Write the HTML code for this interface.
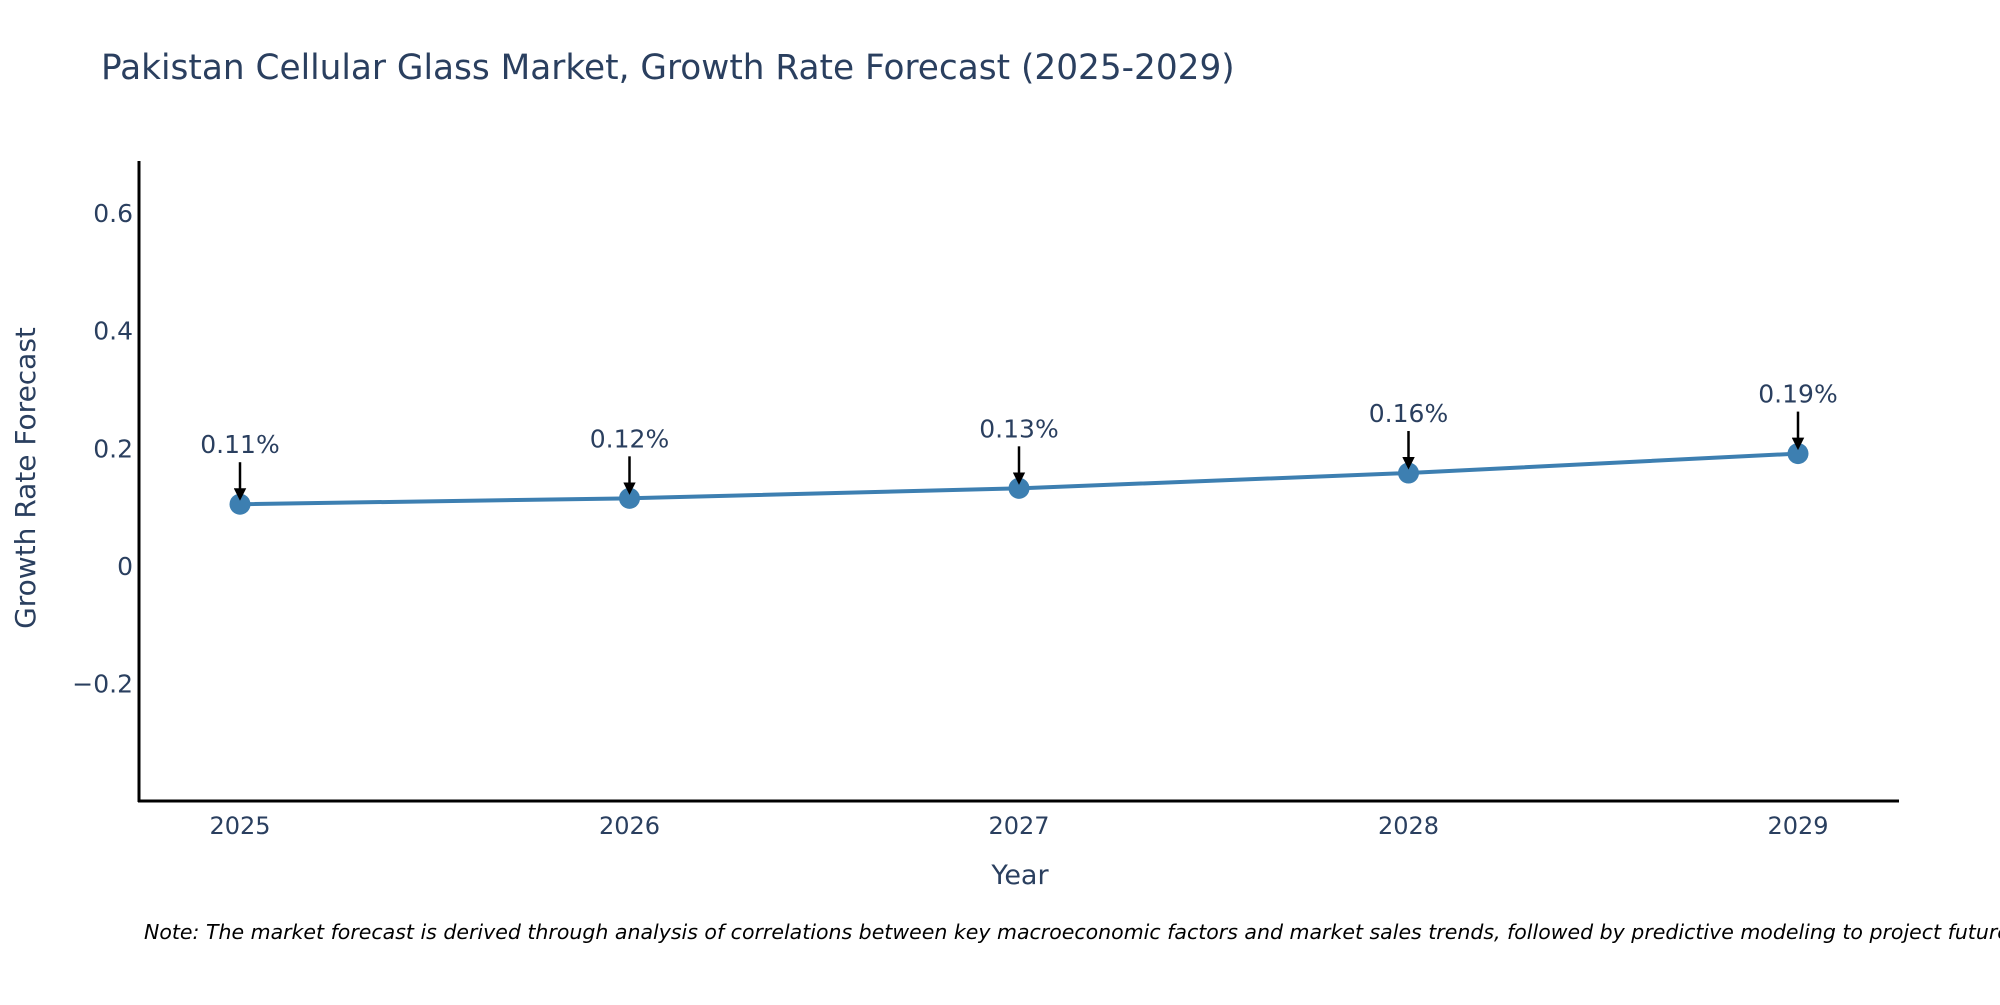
<!DOCTYPE html>
<html><head><meta charset="utf-8"><style>
body{margin:0;background:#fff;width:2000px;height:1000px;overflow:hidden;font-family:"Liberation Sans","DejaVu Sans",sans-serif}
</style></head><body>
<svg id="chart" width="2000" height="1000" xmlns="http://www.w3.org/2000/svg" font-family="'DejaVu Sans','Liberation Sans',sans-serif">
<text x="101" y="79" font-size="34.3" fill="#2a3f5f">Pakistan Cellular Glass Market, Growth Rate Forecast (2025-2029)</text>
<g id="yticks"></g><g id="xticks"></g>
<line x1="139" y1="161" x2="139" y2="802" stroke="#000" stroke-width="3"/>
<line x1="138" y1="801" x2="1899" y2="801" stroke="#000" stroke-width="3"/>
<g id="series"></g>
<text transform="translate(35,478) rotate(-90)" text-anchor="middle" font-size="28" fill="#2a3f5f">Growth Rate Forecast</text>
<text x="1020" y="884" text-anchor="middle" font-size="27" fill="#2a3f5f">Year</text>
<text x="144" y="939" font-size="20.5" font-style="italic" fill="#000">Note: The market forecast is derived through analysis of correlations between key macroeconomic factors and market sales trends, followed by predictive modeling to project future sales.</text>
<defs><marker id="ah" markerWidth="5" markerHeight="5" refX="4" refY="2.5" orient="auto" markerUnits="strokeWidth"><path d="M0,0 L5,2.5 L0,5 z" fill="#000"/></marker></defs>
</svg>
<script>
const years=["2025","2026","2027","2028","2029"];
const values=[0.105,0.115,0.132,0.158,0.191];
const labels=["0.11%","0.12%","0.13%","0.16%","0.19%"];
const yTicks=[-0.2,0,0.2,0.4,0.6];
const yTickLabels=["\u22120.2","0","0.2","0.4","0.6"];
const NS="http://www.w3.org/2000/svg";
const x=i=>240+i*389.5;
const y=v=>566-v*588.5;
function mk(tag,attrs,parent,text){const e=document.createElementNS(NS,tag);for(const k in attrs)e.setAttribute(k,attrs[k]);if(text!==undefined)e.textContent=text;parent.appendChild(e);return e;}
const yt=document.getElementById('yticks'),xt=document.getElementById('xticks'),sg=document.getElementById('series');
yTicks.forEach((t,i)=>{const e=mk('text',{x:133,y:y(t)+9,'text-anchor':'end','font-size':25,fill:'#2a3f5f'},yt,yTickLabels[i]);

});
years.forEach((t,i)=>{const e=mk('text',{x:x(i),y:834,'text-anchor':'middle','font-size':24,fill:'#2a3f5f'},xt,t);

});
const pl=mk('polyline',{points:values.map((v,i)=>x(i)+','+y(v)).join(' '),fill:'none',stroke:'#3d7fb1','stroke-width':4},sg);


values.forEach((v,i)=>{
const c=mk('circle',{cx:x(i),cy:y(v),r:10.5,fill:'#3d7fb1'},sg);


const a=mk('line',{x1:x(i),y1:y(v)-42,x2:x(i),y2:y(v)-6,stroke:'#000','stroke-width':2.5,'marker-end':'url(#ah)'},sg);


const t=mk('text',{x:x(i),y:y(v)-51,'text-anchor':'middle','font-size':25,fill:'#2a3f5f'},sg,labels[i]);


});
</script>
</body></html>
